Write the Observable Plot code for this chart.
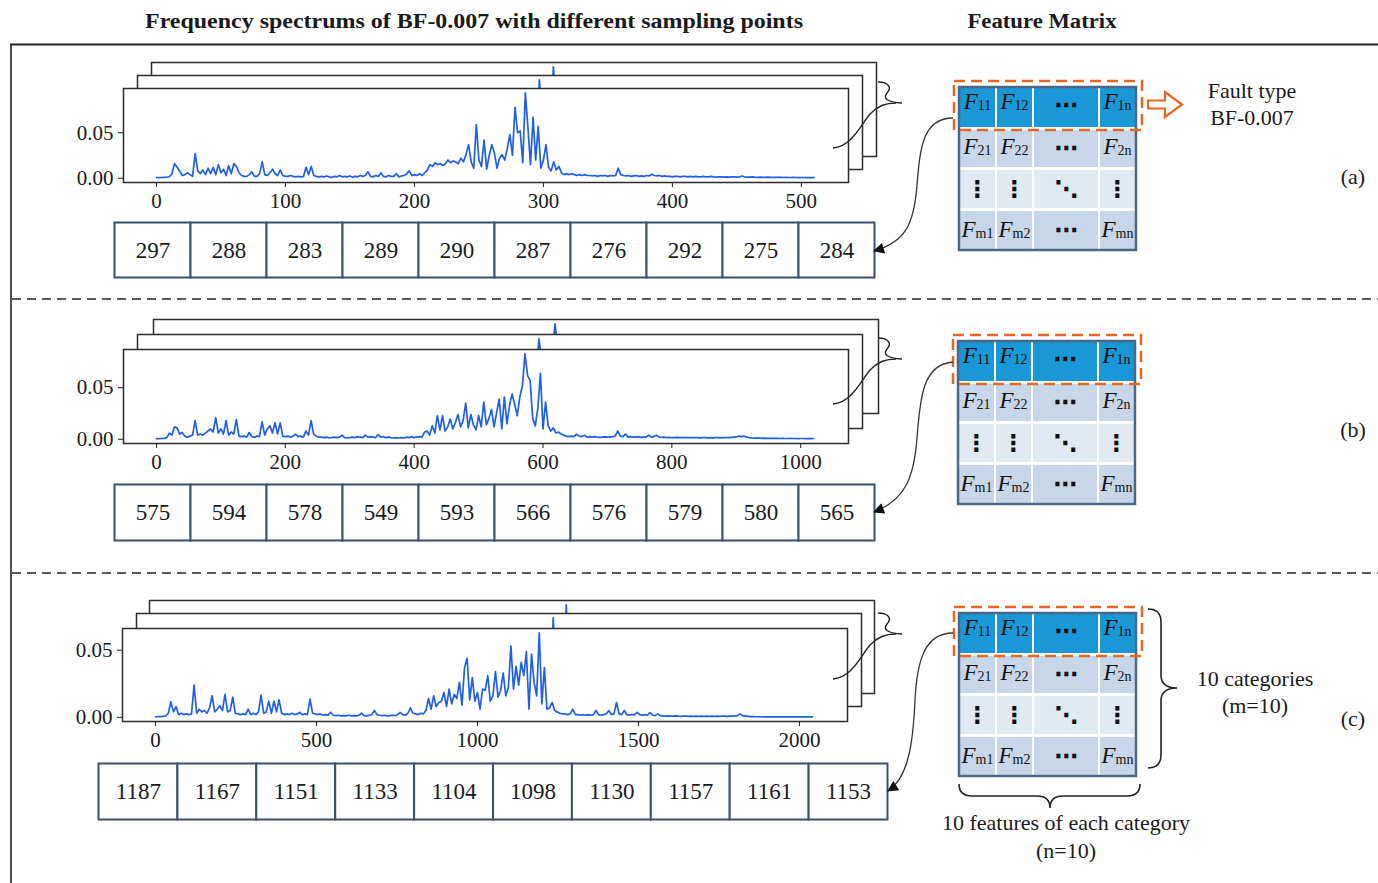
<!DOCTYPE html>
<html>
<head>
<meta charset="utf-8">
<script src="https://cdn.jsdelivr.net/npm/d3@7"></script>
<script src="https://cdn.jsdelivr.net/npm/@observablehq/plot@0.6"></script>
<style>
  body { margin: 0; background: #fff; }
  #fig { position: relative; width: 1378px; height: 883px; overflow: hidden; background: #fff; }
  #fig > svg { position: absolute; }
  #fig svg text { font-family: "Liberation Serif", "Times New Roman", serif; }
  #fig svg text.sym { font-family: "DejaVu Sans", sans-serif; }
</style>
</head>
<body>
<div id="fig"></div>
<script>
// ---------------------------------------------------------------
// Spectrum amplitudes (units of 1e-3), BF-0.007
// A: 512-point spectrum, every 2nd bin
// B: 1024-point spectrum, every 4th bin
// C: 2048-point spectrum, every 8th bin
// ---------------------------------------------------------------
const ampA = [
  0.6,0.7,0.8,1,1.2,1.6,5,16,12,8,3,4,6,4,2,27,
  8,5,9,4,11,5,12,4,15,6,10,3,14,5,16,13,
  6,3,2,2,4,7,2,2,5,18,4,3,6,10,5,3,
  9,3,2,2,3,2,1.5,2,1.5,2,12,4,13,3,2,1.5,
  2,1.5,2.5,1.5,1,2,1.5,3,1.5,2,1.5,2.5,1,2,1.5,3,
  2,3,7,2,1.5,3,2,6,2,1.5,3,2,2,5,1.5,2.5,
  3,5,8,3,4,3,5,3,6,9,15,13,17,15,16,14,
  16,20,17,19,18,16,22,18,26,37,18,11,59,20,13,42,
  10,25,37,28,11,22,26,20,33,48,25,78,50,52,17,94,
  56,15,67,20,57,11,20,37,12,8,18,9,13,6,4,5,
  4,5,4,3,4,3,4,3,3,2.5,3,2,3,2.5,3,2,
  3,2.5,3,11,4,3,2.5,3,2,2.5,3,2,2.5,2,3,2.5,
  4.4,3,2.5,3,2,2.5,2,2,1.5,2,2,1.5,2,2,1.5,2,
  1.5,2,1.5,1.5,2,1.5,1.5,2,1.5,1.2,1.5,1.5,1.2,1.5,1.2,1.5,
  1.5,1.2,1.5,2.5,1.5,1.2,1.2,1.5,1.2,1,1.2,1,1,1.2,1,1,
  1,0.9,1,0.8,0.9,0.8,0.8,0.9,0.8,0.7,0.8,0.8,0.7,0.8,0.7,0.8
];
const ampB = [
  0.5,0.6,0.7,0.8,1.5,6,4,12,11,5,6.5,3,2,3,4,18,
  4,5,4,6,8,10,7,21,6,10,5,18,4,7,5,19,
  3,2.5,3,2,6.5,2.5,2,3,2.5,17,4,10,13,6,16,5,
  16,3,2.5,3,2,3,5,2.5,3,2,8,4,18,5,3,2,
  2,1.5,2,1.2,1.5,2,1.5,2,4,1.5,1.2,1.5,2,1.5,2.5,2,
  1.5,4,2,2.5,2,1.5,4.5,2,2.5,1.5,2,1.5,1.2,1.5,1.2,1.5,
  1.2,2,1.5,2.5,1.5,2,2.5,2,7,8,4,13,6,23,9,23,
  8,12,19.6,10,16,24,12,18,35,11,24,14,9,23,12,36,
  14,20,29,12,26,39,10,41,15,33,44,34,23,41,52,83,
  62,57,20,13,30,64,10,36,13,8,11,6,7,5,4,3,
  2.5,3,2.5,5,3,2.5,4,2,2.5,2,2.5,2,1.8,2,2.2,2,
  2,2.5,3,8,3,2.5,5,2,2.5,2,2,2.5,1.8,2,2,4,
  2,2.5,4,2,1.8,2,1.5,1.8,1.5,1.5,1.8,1.5,1.5,1.6,1.5,1.5,
  1.6,1.5,1.5,1.4,1.5,1.6,1.4,1.5,1.4,1.5,1.6,1.4,1.5,1.5,1.6,1.8,
  2,2.2,3,2.5,3,2,1.5,1.2,1.1,1,1,0.9,1,0.9,0.9,0.8,
  0.8,0.8,0.7,0.8,0.7,0.7,0.8,0.7,0.7,0.6,0.7,0.7,0.6,0.7,0.6,0.7
];
const ampC = [
  0.4,0.5,0.5,0.6,1,3,11.6,4,8,2,3,2,2.5,2,2.5,24,
  3,6,4,5,3,7,16,4,6,8.6,5,17,4,5,15,3,
  2.5,2,2.5,2,6,2,3,2,4,16.5,3,4,12,3,12,4,
  13,3,2,2.5,2,3,2,2.5,3.7,2,2.5,2,13.5,3,2.5,2,
  2.5,1.5,2,1.5,3.7,1.5,1.2,1.5,1,1.2,1,1.5,1,1.2,1,1.5,
  3,1.2,1,1.5,2,5,2,1.5,1.2,1.5,1,1.2,1.5,1.2,2,3.7,
  2,1.5,3,7,3,2.5,2,3,2.5,5,14,6,16,8,11,12,
  18.5,8,21,10,17,14,26,9,37,44,13,29.5,12,18.5,6,21,
  20,31,12,16,34,15,20,33,16,22,53,21,38,24,41,31,
  49,6,47,26,16,63,10,37,6,7,11,5,4,3,2.5,2.5,
  2,2.5,6,2,2,1.5,2,1.5,2,1.5,2,5,2,1.5,2,2.5,
  5,2,2.5,11,2.5,2,5,2,1.5,2,2,3.7,2,1.5,2,1.5,
  3.5,1.5,1.2,2.5,1.2,1,0.8,1,0.8,0.8,1,0.8,0.7,0.8,0.8,0.7,
  0.8,0.7,0.8,0.7,0.8,0.7,0.9,0.7,0.8,0.7,0.8,0.7,0.8,0.9,0.7,0.8,
  0.8,1,1.2,2.5,1,1.2,0.6,0.5,0.5,0.4,0.4,0.4,0.3,0.4,0.3,0.3,
  0.3,0.3,0.4,0.3,0.3,0.3,0.4,0.3,0.3,0.3,0.3,0.4,0.3,0.3,0.3,0.3
];

// Sampling-point counts and tick labels of each spectrum
const pointCounts = [512, 1024, 2048];
const binSteps = [2, 4, 8];
const xTicksA = [0, 100, 200, 300, 400, 500];
const xTicksB = [0, 200, 400, 600, 800, 1000];
const xTicksC = [0, 500, 1000, 1500, 2000];
const yTicks = [0, 0.05];

// Ten features extracted from each spectrum
const featuresA = [297, 288, 283, 289, 290, 287, 276, 292, 275, 284];
const featuresB = [575, 594, 578, 549, 593, 566, 576, 579, 580, 565];
const featuresC = [1187, 1167, 1151, 1133, 1104, 1098, 1130, 1157, 1161, 1153];

// Feature matrix entries: [symbol, subscript]
const matrixEntries = [
  [["F", "11"], ["F", "12"], ["⋯"], ["F", "1n"]],
  [["F", "21"], ["F", "22"], ["⋯"], ["F", "2n"]],
  [["⋮"], ["⋮"], ["⋱"], ["⋮"]],
  [["F", "m1"], ["F", "m2"], ["⋯"], ["F", "mn"]]
];
const panelTags = ["(a)", "(b)", "(c)"];

// ---------------------------------------------------------------
const FONT = "'Liberation Serif', 'Times New Roman', serif";
const BLUE = "#1f5fe8";
const INK = "#1a1a1a";
const BOXSTROKE = "#3a5068";
const ORANGE = "#e8661f";
const fig = document.getElementById("fig");

const panels = [
  { amp: ampA, step: binSteps[0], n: pointCounts[0], ticks: xTicksA,
    frame: { x: 123, y: 88, w: 725, h: 94 }, back: [[28, -26], [14, -13]],
    row: { values: featuresA, x: 114, y: 222, w: 760, h: 55 }, dy: 0 },
  { amp: ampB, step: binSteps[1], n: pointCounts[1], ticks: xTicksB,
    frame: { x: 123, y: 349, w: 725, h: 94 }, back: [[30, -30], [14, -15]],
    row: { values: featuresB, x: 114, y: 484, w: 760, h: 56 }, dy: 256 },
  { amp: ampC, step: binSteps[2], n: pointCounts[2], ticks: xTicksC,
    frame: { x: 122, y: 628, w: 725, h: 93 }, back: [[27, -28], [14, -15]],
    row: { values: featuresC, x: 98, y: 763, w: 789, h: 56 }, dy: 531 }
];

function place(el, left, top) {
  el.style.position = "absolute";
  el.style.left = left + "px";
  el.style.top = top + "px";
  fig.appendChild(el);
}

function spectrumPlot(p, withAxes) {
  const data = p.amp.map((v, i) => ({ bin: i * p.step, amp: v * 1e-3 }));
  const maxAmp = d3.max(data, d => d.amp);
  const xDomain = [-0.05 * (p.n - 1), 1.05 * (p.n - 1)];
  const yDomain = [-0.05 * maxAmp, 1.05 * maxAmp];
  const m = withAxes ? { l: 62, r: 1, t: 1, b: 38 } : { l: 1, r: 1, t: 1, b: 1 };
  const plot = Plot.plot({
    width: p.frame.w + m.l + m.r,
    height: p.frame.h + m.t + m.b,
    marginLeft: m.l, marginRight: m.r, marginTop: m.t, marginBottom: m.b,
    style: { background: "transparent", fontFamily: FONT, fontSize: "21px", color: INK, overflow: "visible" },
    x: withAxes
      ? { domain: xDomain, ticks: p.ticks, tickSize: 5, tickPadding: 6, tickFormat: d => String(d), label: null }
      : { domain: xDomain, axis: null },
    y: withAxes
      ? { domain: yDomain, ticks: yTicks, tickSize: 5, tickPadding: 5, tickFormat: d3.format(".2f"), label: null }
      : { domain: yDomain, axis: null },
    marks: [
      Plot.frame({ fill: "white", stroke: "none" }),
      Plot.lineY(data, { x: "bin", y: "amp", stroke: BLUE, strokeWidth: 1.7, strokeLinejoin: "round" }),
      Plot.frame({ stroke: "#2b2b2b", strokeWidth: 1.5 })
    ]
  });
  return { plot, m };
}

function featureRow(r) {
  const plot = Plot.plot({
    width: r.w + 3, height: r.h + 3, margin: 1.5,
    style: { background: "transparent", fontFamily: FONT, color: INK, overflow: "visible" },
    x: { type: "band", domain: d3.range(r.values.length), padding: 0, round: false, axis: null },
    marks: [
      Plot.cell(r.values, { x: (d, i) => i, fill: "white", stroke: BOXSTROKE, strokeWidth: 2, inset: 0 }),
      Plot.text(r.values, { x: (d, i) => i, text: d => String(d), fontSize: 23, fontFamily: FONT, fill: INK })
    ]
  });
  d3.select(plot).selectAll("text").style("font-family", FONT);
  return plot;
}

// stacked spectra: two offset copies behind, axes on the front one
panels.forEach(p => {
  p.back.forEach(([dx, dy]) => {
    const { plot, m } = spectrumPlot(p, false);
    place(plot, p.frame.x - m.l + dx, p.frame.y - m.t + dy);
  });
  const { plot, m } = spectrumPlot(p, true);
  place(plot, p.frame.x - m.l, p.frame.y - m.t);
  place(featureRow(p.row), p.row.x - 1.5, p.row.y - 1.5);
});

// ---------------------------------------------------------------
// Diagram layer: frame, separators, feature matrices, braces, arrows
// ---------------------------------------------------------------
const svg = d3.select(fig).append("svg")
  .attr("width", 1378).attr("height", 883)
  .style("left", "0px").style("top", "0px")
  .style("pointer-events", "none");

const defs = svg.append("defs");
defs.append("marker")
  .attr("id", "tip").attr("viewBox", "0 0 10 10")
  .attr("refX", 9).attr("refY", 5)
  .attr("markerWidth", 14).attr("markerHeight", 11)
  .attr("markerUnits", "userSpaceOnUse").attr("orient", "auto")
  .append("path").attr("d", "M0,0 L10,5 L0,10 Z").attr("fill", "#111");

function label(x, y, str, o = {}) {
  const t = svg.append("text")
    .attr("x", x).attr("y", y)
    .attr("text-anchor", o.anchor || "middle")
    .attr("font-size", o.size || 22)
    .attr("font-weight", o.weight || "normal")
    .attr("fill", INK)
    .text(str);
  if (o.length) t.attr("textLength", o.length).attr("lengthAdjust", "spacingAndGlyphs");
  return t;
}

// headings
label(474, 28, "Frequency spectrums of  BF-0.007 with different sampling points", { size: 20, weight: "bold", length: 658 });
label(1042, 28, "Feature Matrix", { size: 20, weight: "bold", length: 149 });

// outer frame and separators
svg.append("path").attr("d", "M10,44.5 H1378").attr("stroke", "#222").attr("stroke-width", 2).attr("fill", "none");
svg.append("path").attr("d", "M11,44 V883").attr("stroke", "#222").attr("stroke-width", 1.6).attr("fill", "none");
[299, 573].forEach(y => {
  svg.append("path").attr("d", `M12,${y} H1378`)
    .attr("stroke", "#222").attr("stroke-width", 1.6)
    .attr("stroke-dasharray", "9,6").attr("fill", "none");
});

// feature matrix
const colBounds = [[1, 36], [38, 73], [75, 139], [141, 176]];
const rowBounds = [[1, 40], [43, 80], [83, 121], [124, 162]];
const rowFills = ["#1a98d5", "#c7d7e9", "#e1e9f3", "#c7d7e9"];
const textBase = [22, 67, 108, 150];
const dotMid = [18, 61, 102, 143];

function featureMatrix(x0, y0) {
  const g = svg.append("g").attr("transform", `translate(${x0},${y0})`);
  g.append("rect").attr("width", 177).attr("height", 163).attr("fill", "#fff");
  matrixEntries.forEach((row, ri) => {
    row.forEach((cell, ci) => {
      const [c0, c1] = colBounds[ci];
      const [r0, r1] = rowBounds[ri];
      g.append("rect").attr("x", c0).attr("y", r0)
        .attr("width", c1 - c0).attr("height", r1 - r0)
        .attr("fill", rowFills[ri]);
      const cx = (c0 + c1) / 2;
      if (cell.length === 2) {
        const t = g.append("text").attr("x", cx).attr("y", textBase[ri])
          .attr("text-anchor", "middle").attr("fill", "#111");
        t.append("tspan").attr("font-style", "italic").attr("font-size", 23).text(cell[0]);
        t.append("tspan").attr("font-size", 14).attr("dy", 1).text(cell[1]);
      } else {
        g.append("text").attr("class", "sym").attr("x", cx).attr("y", dotMid[ri])
          .attr("text-anchor", "middle").attr("dominant-baseline", "central")
          .attr("font-size", 23).attr("font-weight", "bold").attr("fill", "#111")
          .text(cell[0]);
      }
    });
  });
  g.append("rect").attr("width", 177).attr("height", 163)
    .attr("fill", "none").attr("stroke", "#4b6785").attr("stroke-width", 2.5);
  // highlighted first row
  g.append("rect").attr("x", -5).attr("y", -6).attr("width", 188).attr("height", 49)
    .attr("fill", "none").attr("stroke", ORANGE).attr("stroke-width", 2.5)
    .attr("stroke-dasharray", "11,6");
}

const matrixOrigins = [[959, 87], [958, 341], [959, 613]];
matrixOrigins.forEach(([x, y]) => featureMatrix(x, y));

// stack connectors: small brace tied to the front spectrum
panels.forEach(p => {
  const g = svg.append("g").attr("transform", `translate(0,${p.dy})`)
    .attr("fill", "none").attr("stroke", "#222").attr("stroke-width", 1.4);
  g.append("path").attr("d", "M878,82 C889,82 892,88 887,93 C883,98 886,102 902,103");
  g.append("path").attr("d", "M833,148 C852,146 860,126 870,114 C878,106 885,103 896,103");
});

// curved arrows from the highlighted matrix row to the feature rows
const arrowPaths = [
  "M953,118 C922,118 920,150 917,185 C914,225 905,242 874,251",
  "M953,362 C922,364 920,400 917,438 C914,478 905,500 874,512",
  "M953,633 C925,633 917,660 915,700 C913,745 908,778 888,791"
];
arrowPaths.forEach(d => {
  svg.append("path").attr("d", d).attr("fill", "none")
    .attr("stroke", "#333").attr("stroke-width", 1.3)
    .attr("marker-end", "url(#tip)");
});

// hollow orange arrow pointing to the fault type
svg.append("path")
  .attr("d", "M1148,100.5 H1165 V92 L1182,104.5 L1165,117 V108.5 H1148 Z")
  .attr("fill", "#fff").attr("stroke", ORANGE).attr("stroke-width", 2.2)
  .attr("stroke-linejoin", "miter");
label(1252, 98, "Fault type");
label(1252, 125, "BF-0.007");

// braces around the third matrix
svg.append("path")
  .attr("d", "M1148,609 Q1161,609 1161,622 L1161,675 Q1161,688 1177,688 Q1161,688 1161,701 L1161,755 Q1161,768 1148,768")
  .attr("fill", "none").attr("stroke", "#222").attr("stroke-width", 1.6);
svg.append("path")
  .attr("d", "M959,784 Q959,796 972,796 L1037,796 Q1050,796 1050,808 Q1050,796 1063,796 L1127,796 Q1140,796 1140,784")
  .attr("fill", "none").attr("stroke", "#222").attr("stroke-width", 1.6);
label(1255, 686, "10 categories");
label(1255, 713, "(m=10)");
label(1066, 830, "10 features of each category");
label(1066, 858, "(n=10)");

// panel tags
[184, 437, 726].forEach((y, i) => label(1353, y, panelTags[i]));
</script>
</body>
</html>
